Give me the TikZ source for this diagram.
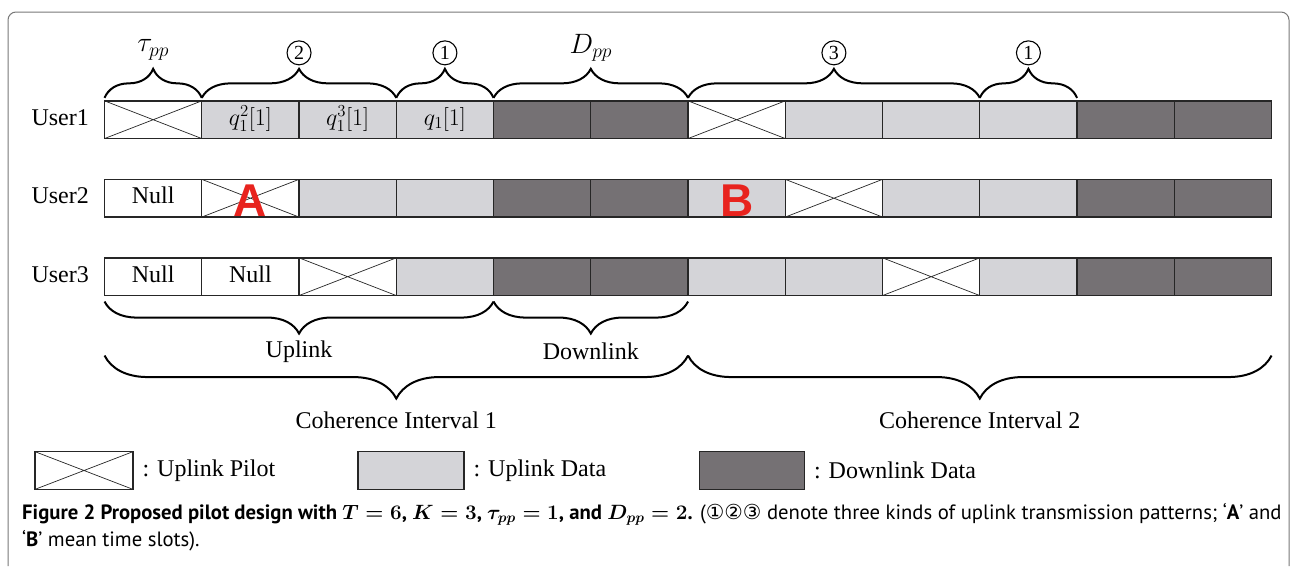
\RequirePackage{fix-cm}
\documentclass[tikz,border=0pt]{standalone}
\usepackage{fontspec}
\setmainfont{Liberation Serif}
\newfontfamily\capfont{PT Sans}
\newfontfamily\symfont{DejaVu Sans}
\newfontfamily\markfont{Liberation Sans}
\usepackage{xcolor}
\usepackage{tikz}
\usetikzlibrary{matrix}
\usetikzlibrary{positioning}
\usetikzlibrary{decorations.pathreplacing}
\definecolor{updata}{RGB}{212,212,216}
\definecolor{downdata}{RGB}{117,113,116}
\definecolor{redmark}{RGB}{232,35,30}
\definecolor{framegray}{RGB}{120,120,120}
\tikzset{
slot/.style={rectangle, draw=black!85, line width=1.3pt,
  minimum width=97.25pt, minimum height=37.7pt,
  inner sep=0pt, outer sep=0pt},
pilot/.style={fill=white, path picture={
  \draw[line width=0.7pt]
    (path picture bounding box.north west) -- (path picture bounding box.south east)
    (path picture bounding box.south west) -- (path picture bounding box.north east);}},
up/.style={fill=updata},
down/.style={fill=downdata},
slots/.style={
  matrix of nodes,
  row sep=39.5pt,
  column sep=-1.3pt,
  nodes={slot, text height=17pt, text depth=6pt},
  nodes in empty cells
},
column 1/.style={nodes={draw=none, minimum width=90pt}},
bracetop/.style={decorate, decoration={brace, amplitude=29pt}, line width=2pt},
bracelow/.style={decorate, decoration={brace, amplitude=32pt}, line width=2pt},
bracecoh/.style={decorate, decoration={brace, amplitude=43pt}, line width=2pt},
circnum/.style={circle, draw, line width=1.1pt, inner sep=0pt, minimum size=24pt,
  font=\fontsize{20}{20}\selectfont},
slotmark/.style={text=redmark, font=\markfont\bfseries\fontsize{46}{46}\selectfont, inner sep=0pt},
}

\begin{document}
\begin{tikzpicture}[x=1pt, y=-1pt, font=\fontsize{24}{28}\selectfont]
\useasboundingbox (0,0) rectangle (1294,566);
% frame
\draw[framegray, line width=1pt, rounded corners=8pt] (8,566) -- (8,12) -- (1289,12) -- (1289,566);
\matrix (mat) [slots, anchor=north west, inner sep=0pt] at (15,100)
{
User1 & |[pilot]| & |[up]| $q_1^2[1]$ & |[up]| $q_1^3[1]$ & |[up]| $q_1[1]$ & |[down]| & |[down]| & |[pilot]| & |[up]| & |[up]| & |[up]| & |[down]| & |[down]| \\
User2 & Null & |[pilot]| & |[up]| & |[up]| & |[down]| & |[down]| & |[up]| & |[pilot]| & |[up]| & |[up]| & |[down]| & |[down]| \\
User3 & Null & Null & |[pilot]| & |[up]| & |[down]| & |[down]| & |[up]| & |[up]| & |[pilot]| & |[up]| & |[down]| & |[down]| \\
};
% the time slots A and B
\node[slotmark] (markA) at ([yshift=-2pt]mat-2-3) {A};
\node[slotmark] (markB) at ([yshift=-2pt]mat-2-8) {B};
% the braces above
\draw[bracetop] ([yshift=3pt]mat-1-2.north west) -- ([yshift=3pt]mat-1-2.north east)
  node[midway, yshift=48pt, font=\fontsize{28}{28}\selectfont] (taupp) {$\tau_{pp}$};
\draw[bracetop] ([yshift=3pt]mat-1-3.north west) -- ([yshift=3pt]mat-1-4.north east)
  node[midway, yshift=45pt, circnum] (two) {2};
\draw[bracetop] ([yshift=3pt]mat-1-5.north west) -- ([yshift=3pt]mat-1-5.north east)
  node[midway, yshift=45pt, circnum] (oneA) {1};
\draw[bracetop] ([yshift=3pt]mat-1-6.north west) -- ([yshift=3pt]mat-1-7.north east)
  node[midway, yshift=50pt, font=\fontsize{28}{28}\selectfont] (dpp) {$D_{pp}$};
\draw[bracetop] ([yshift=3pt]mat-1-8.north west) -- ([yshift=3pt]mat-1-10.north east)
  node[midway, yshift=45pt, circnum] (three) {3};
\draw[bracetop] ([yshift=3pt]mat-1-11.north west) -- ([yshift=3pt]mat-1-11.north east)
  node[midway, yshift=45pt, circnum] (oneB) {1};
% the braces below
\draw[bracelow] ([yshift=-6pt]mat-3-5.south east) -- ([yshift=-6pt]mat-3-2.south west)
  node[midway, yshift=-50pt] (uplink) {Uplink};
\draw[bracelow] ([yshift=-6pt]mat-3-7.south east) -- ([yshift=-6pt]mat-3-6.south west)
  node[midway, yshift=-50pt] (downlink) {Downlink};
\draw[bracecoh] ([yshift=-60pt]mat-3-7.south east) -- ([yshift=-60pt]mat-3-2.south west)
  node[midway, yshift=-65pt] (coh1) {Coherence Interval 1};
\draw[bracecoh] ([yshift=-60pt]mat-3-13.south east) -- ([yshift=-60pt]mat-3-8.south west)
  node[midway, yshift=-65pt] (coh2) {Coherence Interval 2};
% the legend
\node[slot, pilot, minimum width=98pt] (keypilot) at (84,470.5) {};
\node[right=6pt of keypilot] (keypilottxt) {: Uplink Pilot};
\node[slot, up, minimum width=106pt] (keyup) at (411,470.5) {};
\node[right=6pt of keyup] (keyuptxt) {: Uplink Data};
\node[slot, down, minimum width=105pt] (keydown) at (752,470.5) {};
\node[right=6pt of keydown] (keydowntxt) {: Downlink Data};
% caption
\node[anchor=north west, align=left, inner sep=0pt,
  font=\capfont\fontsize{20.7}{27}\selectfont] (caption) at (22,503)
{{\bfseries\boldmath Figure 2 Proposed pilot design with $T=6$, $K=3$, $\tau_{pp}=1$, and $D_{pp}=2$.}
({\symfont ①②③} denote three kinds of uplink transmission patterns; ‘{\bfseries A}’ and\\
‘{\bfseries B}’ mean time slots).};
\end{tikzpicture}
\end{document}
